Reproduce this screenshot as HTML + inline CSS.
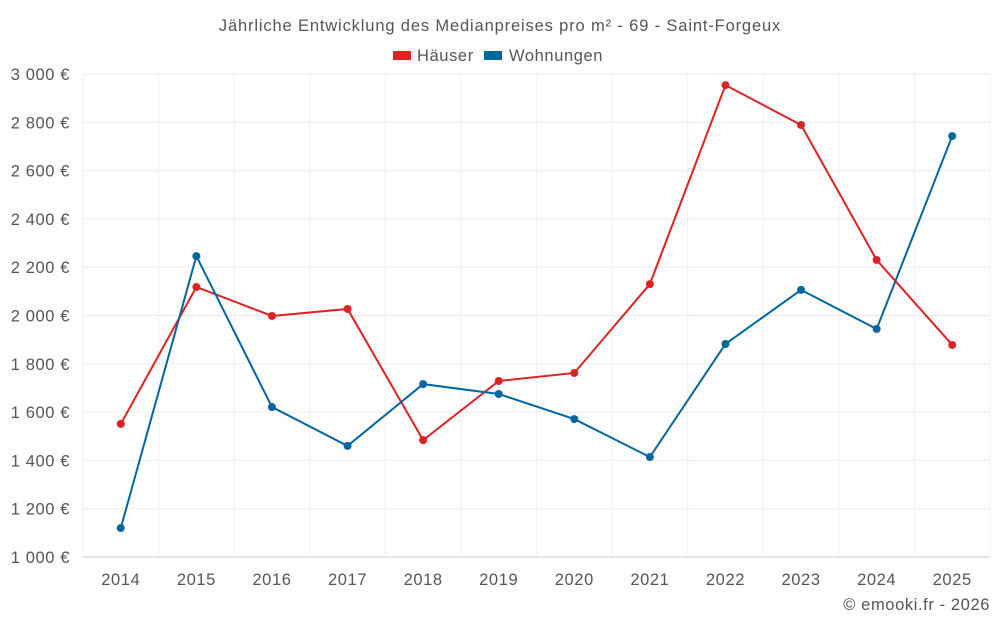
<!DOCTYPE html>
<html><head><meta charset="utf-8"><style>
body{margin:0;background:#fff;font-family:"Liberation Sans",sans-serif}
svg text{font-family:"Liberation Sans",sans-serif;fill:#555;letter-spacing:0.6px}
</style></head><body>
<svg id="chart" width="1000" height="625">
<text x="500" y="31" text-anchor="middle" font-size="16.5" style="letter-spacing:0.85px">Jährliche Entwicklung des Medianpreises pro m² - 69 - Saint-Forgeux</text>
<g>
<g><rect x="393" y="51" width="18" height="9" fill="#dd2222"/><text x="417" y="61" font-size="16.5">Häuser</text></g>
<g><rect x="484" y="51" width="18" height="9" fill="#0066a0"/><text x="509" y="61" font-size="16.5">Wohnungen</text></g>
</g>
<g id="grid"></g><g id="axes"></g><g id="series"></g>
<text x="990" y="610" text-anchor="end" font-size="16.5">© emooki.fr - 2026</text>
</svg>
<script>
const years=[2014,2015,2016,2017,2018,2019,2020,2021,2022,2023,2024,2025];
const haeuser=[1551,2118,1998,2027,1484,1729,1762,2130,2954,2789,2230,1878];
const wohnungen=[1120,2246,1621,1460,1716,1675,1571,1414,1882,2106,1944,2743];
const yTicks=[1000,1200,1400,1600,1800,2000,2200,2400,2600,2800,3000];
const yTickLabels=["1 000 €","1 200 €","1 400 €","1 600 €","1 800 €","2 000 €","2 200 €","2 400 €","2 600 €","2 800 €","3 000 €"];
const L=83,R=990,T=74,B=557,NS="http://www.w3.org/2000/svg";
const step=(R-L)/years.length;
const x=i=>L+step*(i+0.5);
const y=v=>B-(v-1000)/2000*(B-T);
function mk(tag,attrs,parent){const e=document.createElementNS(NS,tag);for(const k in attrs)e.setAttribute(k,attrs[k]);document.getElementById(parent).appendChild(e);return e;}
yTicks.forEach((t,i)=>{
 const g=mk('line',{x1:L,x2:R,y1:y(t),y2:y(t),stroke:i==0?'#ccc':'#ebebeb'},'grid');
 
 
 const tx=mk('text',{x:70,y:y(t)+6,'text-anchor':'end','font-size':16.5},'axes');tx.textContent=yTickLabels[i];
 
 
});
for(let i=0;i<=years.length;i++){
 const g=mk('line',{x1:L+step*i,x2:L+step*i,y1:T,y2:B,stroke:'#f0f0f0'},'grid');
 
 
}
years.forEach((yr,i)=>{
 const tx=mk('text',{x:x(i),y:585,'text-anchor':'middle','font-size':16.5},'axes');tx.textContent=yr;
 
 
});
function series(vals,color,name){
 const p=mk('polyline',{points:vals.map((v,i)=>x(i)+','+y(v)).join(' '),fill:'none',stroke:color,'stroke-width':2},'series');
 
 
 vals.forEach((v,i)=>{const c=mk('circle',{cx:x(i),cy:y(v),r:4,fill:color},'series');
 
 });
}
series(haeuser,'#dd2222','haeuser');
series(wohnungen,'#0066a0','wohnungen');
</script>
</body></html>
